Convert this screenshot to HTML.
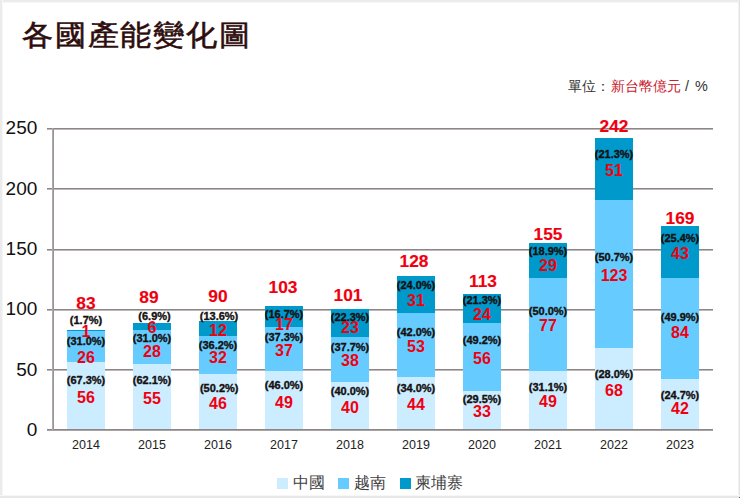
<!DOCTYPE html>
<html><head><meta charset="utf-8"><style>
html,body{margin:0;padding:0}
body{width:740px;height:498px;position:relative;overflow:hidden;background:#fff;font-family:"Liberation Sans",sans-serif}
.frame{position:absolute;left:0;top:0;width:740px;height:498px;box-sizing:border-box;border-style:solid;border-color:#ececec;border-width:2px 2px 3px 2px}
.title{position:absolute;left:22px;top:16.5px;font-size:31px;font-weight:500;line-height:40px;color:#2e0d0d;letter-spacing:1.8px;white-space:nowrap;-webkit-text-stroke:0.6px #2e0d0d;transform:scaleY(0.93);transform-origin:0 0}
.unit{position:absolute;top:76px;font-size:14.4px;line-height:20px;color:#333;white-space:nowrap}
.unit span{color:#c8202f}
.g{position:absolute;left:47px;width:666px;height:2px;background:linear-gradient(#8c8686 50%,#bdb8b8 50%)}
.b{position:absolute;width:38px}
.ax{position:absolute;left:47px;top:429px;width:666px;height:2px;background:linear-gradient(#8c8686 50%,#a9a3a3 50%)}
.ay{position:absolute;left:52px;top:128px;width:2px;height:302px;background:linear-gradient(to right,#b0aaaa 50%,#9a9494 50%)}
.yl{position:absolute;left:0;width:37.3px;text-align:right;font-size:19px;line-height:22px;color:#111}
.xl{position:absolute;top:438px;width:60px;text-align:center;font-size:12.5px;line-height:14px;color:#222}
.pl{position:absolute;width:80px;text-align:center;font-size:11px;line-height:12px;font-weight:bold;color:#141010;letter-spacing:0px;-webkit-text-stroke:0.35px #141010}
.vl{position:absolute;width:80px;text-align:center;font-size:16px;line-height:16px;font-weight:bold;color:#f0000f;transform:scaleX(1.0);-webkit-text-stroke:0px #f0000f}
.tl{position:absolute;width:80px;text-align:center;font-size:16.5px;line-height:16px;font-weight:bold;color:#f0000f;transform:scaleX(1.05);-webkit-text-stroke:0.15px #f0000f}
.leg{position:absolute;top:473px;font-size:15.5px;line-height:20px;color:#404040;white-space:nowrap}
.sq{position:absolute;top:478px;width:11px;height:11px}
</style></head><body>
<div style="position:absolute;left:0;top:0;width:740px;height:2px;background:#ebebeb"></div>
<div style="position:absolute;left:0;top:2px;width:740px;height:1px;background:#f7f7f7"></div>
<div style="position:absolute;left:0;top:0;width:2px;height:498px;background:#ebebeb"></div>
<div style="position:absolute;left:2px;top:0;width:1px;height:498px;background:#f7f7f7"></div>
<div style="position:absolute;left:738px;top:0;width:1px;height:498px;background:#f2f2f2"></div>
<div style="position:absolute;left:739px;top:0;width:1px;height:498px;background:#e2e2e2"></div>
<div style="position:absolute;left:0;top:495px;width:740px;height:1px;background:#f7f7f7"></div>
<div style="position:absolute;left:0;top:496px;width:740px;height:2px;background:#e8e8e8"></div>
<div style="position:absolute;left:739px;top:497px;width:1px;height:1px;background:#666"></div>
<div class="title">各國產能變化圖</div>
<div class="unit" style="left:567.5px">單位：</div><div class="unit" style="left:610.5px;color:#c8202f">新台幣億元</div><div class="unit" style="left:685px">/</div><div class="unit" style="left:695px">%</div>
<div class="g" style="top:128px"></div><div class="g" style="top:188px"></div><div class="g" style="top:249px"></div><div class="g" style="top:309px"></div><div class="g" style="top:369px"></div><div class="b" style="left:67.00px;top:362.41px;height:67.54px;background:#ccecff"></div><div class="b" style="left:67.00px;top:331.06px;height:31.36px;background:#66ccff"></div><div class="b" style="left:67.00px;top:329.85px;height:1.21px;background:#0099cc"></div><div class="b" style="left:133.00px;top:363.62px;height:66.33px;background:#ccecff"></div><div class="b" style="left:133.00px;top:329.85px;height:33.77px;background:#66ccff"></div><div class="b" style="left:133.00px;top:322.62px;height:7.24px;background:#0099cc"></div><div class="b" style="left:199.00px;top:374.47px;height:55.48px;background:#ccecff"></div><div class="b" style="left:199.00px;top:335.88px;height:38.59px;background:#66ccff"></div><div class="b" style="left:199.00px;top:321.41px;height:14.47px;background:#0099cc"></div><div class="b" style="left:265.00px;top:370.90px;height:59.05px;background:#ccecff"></div><div class="b" style="left:265.00px;top:326.80px;height:44.10px;background:#66ccff"></div><div class="b" style="left:265.00px;top:306.00px;height:20.80px;background:#0099cc"></div><div class="b" style="left:331.00px;top:381.80px;height:48.15px;background:#ccecff"></div><div class="b" style="left:331.00px;top:336.60px;height:45.20px;background:#66ccff"></div><div class="b" style="left:331.00px;top:309.20px;height:27.40px;background:#0099cc"></div><div class="b" style="left:397.00px;top:376.89px;height:53.06px;background:#ccecff"></div><div class="b" style="left:397.00px;top:312.97px;height:63.92px;background:#66ccff"></div><div class="b" style="left:397.00px;top:275.58px;height:37.39px;background:#0099cc"></div><div class="b" style="left:463.00px;top:391.00px;height:38.95px;background:#ccecff"></div><div class="b" style="left:463.00px;top:322.70px;height:68.30px;background:#66ccff"></div><div class="b" style="left:463.00px;top:293.80px;height:28.90px;background:#0099cc"></div><div class="b" style="left:529.00px;top:370.86px;height:59.09px;background:#ccecff"></div><div class="b" style="left:529.00px;top:277.99px;height:92.86px;background:#66ccff"></div><div class="b" style="left:529.00px;top:243.02px;height:34.97px;background:#0099cc"></div><div class="b" style="left:595.00px;top:347.94px;height:82.01px;background:#ccecff"></div><div class="b" style="left:595.00px;top:199.60px;height:148.34px;background:#66ccff"></div><div class="b" style="left:595.00px;top:138.10px;height:61.51px;background:#0099cc"></div><div class="b" style="left:661.00px;top:379.30px;height:50.65px;background:#ccecff"></div><div class="b" style="left:661.00px;top:277.99px;height:101.30px;background:#66ccff"></div><div class="b" style="left:661.00px;top:226.14px;height:51.86px;background:#0099cc"></div><div class="ax"></div><div class="ay"></div><div class="yl" style="top:418.95px">0</div><div class="yl" style="top:358.65px">50</div><div class="yl" style="top:298.35px">100</div><div class="yl" style="top:238.05px">150</div><div class="yl" style="top:177.75px">200</div><div class="yl" style="top:117.45px">250</div><div class="xl" style="left:56.00px">2014</div><div class="xl" style="left:122.00px">2015</div><div class="xl" style="left:188.00px">2016</div><div class="xl" style="left:254.00px">2017</div><div class="xl" style="left:320.00px">2018</div><div class="xl" style="left:386.00px">2019</div><div class="xl" style="left:452.00px">2020</div><div class="xl" style="left:518.00px">2021</div><div class="xl" style="left:584.00px">2022</div><div class="xl" style="left:650.00px">2023</div><div class="tl" style="left:46.00px;top:295.00px">83</div><div class="pl" style="left:46.00px;top:314.20px">(1.7%)</div><div class="vl" style="left:46.00px;top:323.60px">1</div><div class="pl" style="left:46.00px;top:335.30px">(31.0%)</div><div class="vl" style="left:46.00px;top:349.50px">26</div><div class="pl" style="left:46.00px;top:374.20px">(67.3%)</div><div class="vl" style="left:46.00px;top:390.10px">56</div><div class="tl" style="left:109.10px;top:288.50px">89</div><div class="pl" style="left:114.50px;top:310.30px">(6.9%)</div><div class="vl" style="left:112.00px;top:320.30px">6</div><div class="pl" style="left:112.00px;top:332.40px">(31.0%)</div><div class="vl" style="left:112.00px;top:343.90px">28</div><div class="pl" style="left:112.00px;top:373.60px">(62.1%)</div><div class="vl" style="left:112.00px;top:390.60px">55</div><div class="tl" style="left:178.00px;top:288.10px">90</div><div class="pl" style="left:179.00px;top:310.30px">(13.6%)</div><div class="vl" style="left:178.00px;top:322.90px">12</div><div class="pl" style="left:178.00px;top:338.90px">(36.2%)</div><div class="vl" style="left:178.00px;top:350.40px">32</div><div class="pl" style="left:179.20px;top:382.00px">(50.2%)</div><div class="vl" style="left:178.00px;top:396.20px">46</div><div class="tl" style="left:242.60px;top:279.00px">103</div><div class="pl" style="left:244.00px;top:308.10px">(16.7%)</div><div class="vl" style="left:244.00px;top:317.20px">17</div><div class="pl" style="left:244.00px;top:330.50px">(37.3%)</div><div class="vl" style="left:244.00px;top:342.80px">37</div><div class="pl" style="left:244.00px;top:379.00px">(46.0%)</div><div class="vl" style="left:244.00px;top:394.60px">49</div><div class="tl" style="left:307.60px;top:287.40px">101</div><div class="pl" style="left:310.00px;top:311.10px">(22.3%)</div><div class="vl" style="left:310.00px;top:319.60px">23</div><div class="pl" style="left:310.00px;top:340.80px">(37.7%)</div><div class="vl" style="left:310.00px;top:352.90px">38</div><div class="pl" style="left:310.00px;top:385.30px">(40.0%)</div><div class="vl" style="left:310.00px;top:400.20px">40</div><div class="tl" style="left:374.40px;top:252.90px">128</div><div class="pl" style="left:376.00px;top:279.30px">(24.0%)</div><div class="vl" style="left:376.00px;top:292.60px">31</div><div class="pl" style="left:376.00px;top:326.10px">(42.0%)</div><div class="vl" style="left:376.00px;top:338.70px">53</div><div class="pl" style="left:376.00px;top:382.00px">(34.0%)</div><div class="vl" style="left:376.00px;top:396.60px">44</div><div class="tl" style="left:443.30px;top:272.90px">113</div><div class="pl" style="left:442.00px;top:293.60px">(21.3%)</div><div class="vl" style="left:442.00px;top:306.60px">24</div><div class="pl" style="left:442.00px;top:334.40px">(49.2%)</div><div class="vl" style="left:442.00px;top:351.00px">56</div><div class="pl" style="left:442.00px;top:393.20px">(29.5%)</div><div class="vl" style="left:442.00px;top:403.70px">33</div><div class="tl" style="left:508.00px;top:225.90px">155</div><div class="pl" style="left:508.00px;top:245.10px">(18.9%)</div><div class="vl" style="left:508.00px;top:257.80px">29</div><div class="pl" style="left:508.00px;top:304.50px">(50.0%)</div><div class="vl" style="left:508.00px;top:318.10px">77</div><div class="pl" style="left:508.00px;top:381.30px">(31.1%)</div><div class="vl" style="left:508.00px;top:394.20px">49</div><div class="tl" style="left:574.00px;top:117.50px">242</div><div class="pl" style="left:574.00px;top:148.40px">(21.3%)</div><div class="vl" style="left:574.00px;top:162.90px">51</div><div class="pl" style="left:574.00px;top:251.30px">(50.7%)</div><div class="vl" style="left:574.00px;top:267.80px">123</div><div class="pl" style="left:574.00px;top:368.00px">(28.0%)</div><div class="vl" style="left:574.00px;top:382.70px">68</div><div class="tl" style="left:640.00px;top:209.50px">169</div><div class="pl" style="left:640.00px;top:231.70px">(25.4%)</div><div class="vl" style="left:640.00px;top:245.60px">43</div><div class="pl" style="left:640.00px;top:311.30px">(49.9%)</div><div class="vl" style="left:640.00px;top:325.10px">84</div><div class="pl" style="left:640.00px;top:388.50px">(24.7%)</div><div class="vl" style="left:640.00px;top:400.90px">42</div>
<div class="sq" style="left:277px;background:#ccecff"></div><div class="leg" style="left:293px">中國</div>
<div class="sq" style="left:338px;background:#66ccff"></div><div class="leg" style="left:354px">越南</div>
<div class="sq" style="left:400px;background:#0099cc"></div><div class="leg" style="left:415px">柬埔寨</div>
</body></html>
